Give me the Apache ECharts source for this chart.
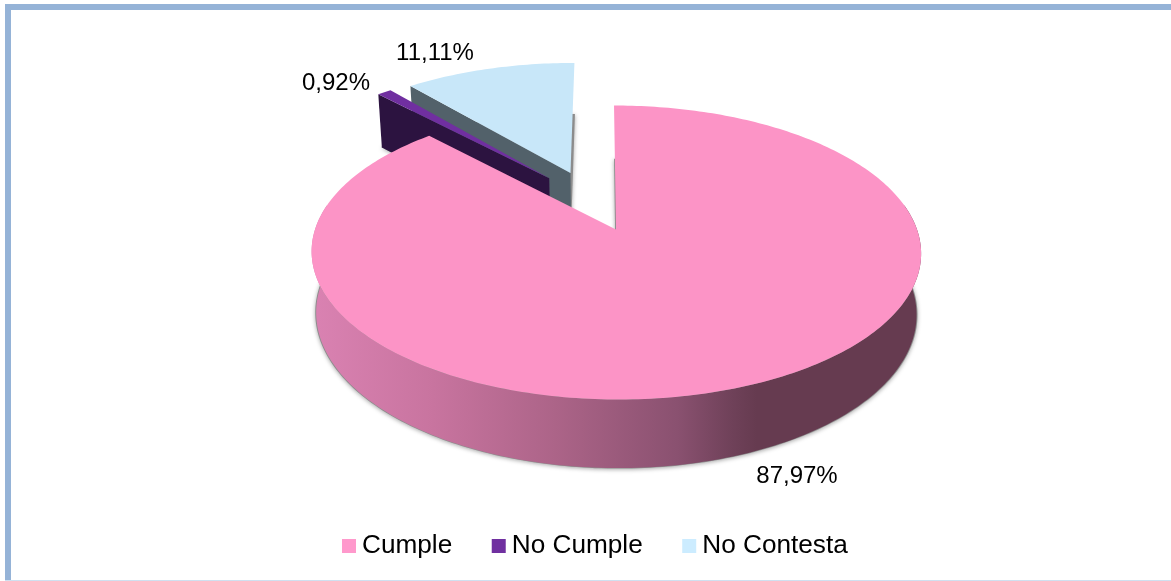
<!DOCTYPE html>
<html>
<head>
<meta charset="utf-8">
<title>Cumple / No Cumple / No Contesta</title>
<script src="https://cdn.jsdelivr.net/npm/echarts@6/dist/echarts.min.js"></script>
<style>
  html, body { margin: 0; padding: 0; background: #fff; }
  #chart { width: 1171px; height: 581px; }
</style>
</head>
<body>
<div id="chart"></div>
<script>
// Chart data
const categories = ['Cumple', 'No Cumple', 'No Contesta'];
const percentages = [87.97, 0.92, 11.11];

// Slice colours: legend swatch, top face, side wall
const legendColors = ['#ff99cc', '#7030a0', '#ccecff'];
const faceColors = ['#fc94c6', '#702fa0', '#c8e7f9'];
const wallColors = [null, '#2c1340', '#52616a'];

// How far each slice is pulled out of the pie, in disc units
const explodeU = [0, -0.232, -0.158];
const explodeV = [0, -0.378, -0.42];

// Centre of each percentage label
const labelX = [797, 336, 435];
const labelY = [476, 83, 53];

// Projection of the unit disc onto the page (vertical perspective)
const originX = 616, originY = 229.5;
const radiusX = 301, radiusY = 143.4;
const perspective = 0.1565, shear = 0.016;
const depth = 60, bottomScale = 0.985;

function project(u, v, floor, grow) {
  const w = 1 - perspective * v;
  let x = radiusX * u / w;
  let y = radiusY * v / w;
  x += shear * y;
  if (floor) {
    const s = bottomScale + (grow || 0);
    x *= s;
    y = y * s + depth / w;
  }
  return [originX + x, originY + y];
}

const rad = (deg) => deg * Math.PI / 180;

function rimPoints(index, from, to, floor, grow) {
  const pts = [];
  const steps = Math.max(2, Math.ceil(Math.abs(to - from)));
  for (let i = 0; i <= steps; i++) {
    const a = rad(from + (to - from) * i / steps);
    pts.push(project(Math.sin(a) + explodeU[index], -Math.cos(a) + explodeV[index], floor, grow));
  }
  return pts;
}

function sliceRange(index) {
  const total = percentages.reduce((a, b) => a + b, 0);
  let start = 0;
  for (let i = 0; i < index; i++) start += percentages[i] / total * 360;
  return [start, start + percentages[index] / total * 360];
}

function renderSlice(index) {
  return function (params, api) {
    const value = api.value(0);
    const [a0, a1] = sliceRange(index);
    const apexTop = project(explodeU[index], explodeV[index], false);
    const apexBottom = project(explodeU[index], explodeV[index], true);
    const topRim = rimPoints(index, a0, a1, false);
    const children = [];

    // Soft cast shadow of the slice's underside
    const under = [project(explodeU[index], explodeV[index], true, 0.003)]
      .concat(rimPoints(index, a0, a1, true, 0.003));
    children.push({
      type: 'polygon',
      shape: { points: under },
      style: {
        fill: '#8c8c8c',
        shadowBlur: 4,
        shadowColor: 'rgba(0,0,0,0.35)',
        shadowOffsetX: 0,
        shadowOffsetY: 1
      }
    });

    if (index === 0) {
      // Curved outer wall of the large slice
      const top = rimPoints(index, 80, 280, false);
      const bottom = rimPoints(index, 80, 280, true).reverse();
      children.push({
        type: 'polygon',
        shape: { points: top.concat(bottom) },
        style: {
          fill: new echarts.graphic.LinearGradient(0, 0, 1, 0, [
            { offset: 0, color: '#da82b2' },
            { offset: 0.2, color: '#c8749f' },
            { offset: 0.4, color: '#ac6488' },
            { offset: 0.6, color: '#8a5170' },
            { offset: 0.69, color: '#6f4159' },
            { offset: 0.73, color: '#663b50' },
            { offset: 1, color: '#663b50' }
          ])
        }
      });
    } else {
      // Flat cut wall on the slice's leading edge
      const edgeTop = topRim[0];
      const edgeLow = rimPoints(index, a0, a0, true)[0];
      children.push({
        type: 'polygon',
        shape: { points: [edgeTop, apexTop, apexBottom, edgeLow] },
        style: { fill: wallColors[index] }
      });
    }

    // Top face
    children.push({
      type: 'polygon',
      shape: { points: [apexTop].concat(topRim) },
      style: { fill: faceColors[index] }
    });

    // Percentage label
    children.push({
      type: 'text',
      style: {
        x: labelX[index],
        y: labelY[index],
        text: value.toFixed(2).replace('.', ',') + '%',
        fill: '#000',
        font: '24px "Liberation Sans", Arial, sans-serif',
        textAlign: 'center',
        textVerticalAlign: 'middle'
      }
    });

    return { type: 'group', children };
  };
}

const chart = echarts.init(document.getElementById('chart'), null, { renderer: 'canvas' });

chart.setOption({
  animation: false,
  backgroundColor: '#ffffff',
  legend: {
    data: categories,
    left: 337,
    top: 528,
    icon: 'rect',
    itemWidth: 14,
    itemHeight: 14,
    itemGap: 39.5,
    selectedMode: false,
    textStyle: {
      color: '#000',
      fontSize: 26.2,
      fontFamily: '"Liberation Sans", Arial, sans-serif',
      padding: [0, 0, 0, 1]
    }
  },
  // Frame around the chart area
  graphic: [
    { type: 'rect', silent: true, z: 10, shape: { x: 5, y: 4, width: 1166, height: 6 }, style: { fill: '#95b3d7' } },
    { type: 'rect', silent: true, z: 10, shape: { x: 5, y: 4, width: 6, height: 577 }, style: { fill: '#95b3d7' } },
    { type: 'rect', silent: true, z: 10, shape: { x: 5, y: 580, width: 1166, height: 1 }, style: { fill: '#cfe0f0' } }
  ],
  series: categories.map((name, index) => ({
    type: 'custom',
    name,
    coordinateSystem: 'none',
    z: 3 - index,
    silent: true,
    itemStyle: { color: legendColors[index] },
    renderItem: renderSlice(index),
    data: [percentages[index]]
  }))
});
</script>
</body>
</html>
